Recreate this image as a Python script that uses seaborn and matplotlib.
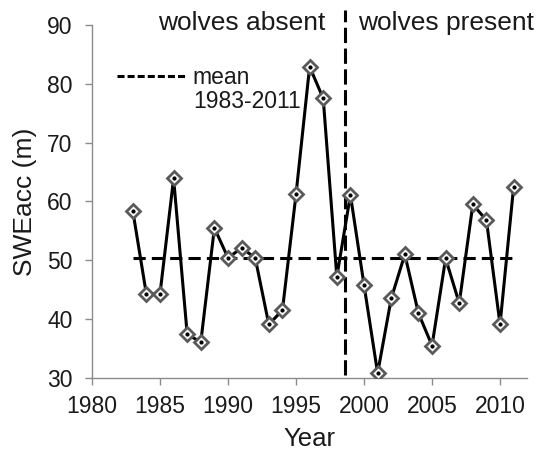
import numpy as np
import pandas as pd
import matplotlib
matplotlib.use("Agg")
import matplotlib.pyplot as plt
import seaborn as sns
from matplotlib.lines import Line2D

# SWEacc per year
years = list(range(1983, 2012))
swe = [58.4, 44.2, 44.3, 63.9, 37.4, 36.1, 55.5, 50.4, 52.1, 50.4,
       39.1, 41.5, 61.2, 82.9, 77.5, 47.2, 61.1, 45.8, 30.8, 43.5,
       51.0, 41.0, 35.5, 50.3, 42.7, 59.5, 56.8, 39.1, 62.5]
mean_value = 50.4
wolf_year = 1998.6
period_labels = ["wolves absent", "wolves present"]
period_centers = [1991.0, 2006.0]
x_ticks = [1980, 1985, 1990, 1995, 2000, 2005, 2010]
y_ticks = [30, 40, 50, 60, 70, 80, 90]

df = pd.DataFrame({"Year": years, "SWEacc": swe})

sns.set_style("white")
plt.rcParams['font.family'] = ['Liberation Sans', 'DejaVu Sans']

fig = plt.figure(figsize=(5.38, 4.62), dpi=100)
ax = fig.add_axes([0.171, 0.182, 0.809, 0.764])

# mean line
ax.plot([years[0], years[-1]], [mean_value, mean_value], color='black',
        lw=2.2, dashes=(4, 2), zorder=2)
# wolf reintroduction line
ax.plot([wolf_year, wolf_year], [30.5, 92.6], color='black', lw=2.2,
        dashes=(5, 1.8), clip_on=False, zorder=2)

sns.lineplot(data=df, x="Year", y="SWEacc", ax=ax, color='black', lw=2.2,
             marker='D', markersize=7.5, markerfacecolor='white',
             markeredgecolor='#5a5a5a', markeredgewidth=2.0, zorder=3)
ax.plot(years, swe, ls='none', marker='o', ms=2, color='black', zorder=4)

ax.set_xlim(1980, 2012)
ax.set_ylim(30, 90)
ax.set_xticks(x_ticks)
ax.set_yticks(y_ticks)
ax.set_xlabel("Year", fontsize=18.5, labelpad=7, color='#1a1a1a')
ax.set_ylabel("SWEacc (m)", fontsize=19, labelpad=7, color='#1a1a1a')

for s in ['top', 'right']:
    ax.spines[s].set_visible(False)
for s in ['left', 'bottom']:
    ax.spines[s].set_color('#8c8c8c')
    ax.spines[s].set_linewidth(1.0)
ax.tick_params(axis='both', direction='out', length=5, width=1.0,
               color='#8c8c8c', labelsize=16.5, labelcolor='#1a1a1a')
ax.tick_params(axis='x', pad=7, bottom=True)
ax.tick_params(axis='y', pad=9, left=True)

for lab, xc in zip(period_labels, period_centers):
    ax.text(xc, 89.15, lab, ha='center', va='baseline', fontsize=19,
            color='#1a1a1a')

handles = [Line2D([], [], color='black', lw=2.2, dashes=(2.3, 1.0)),
           Line2D([], [], color='none')]
ax.legend(handles, ["mean", "1983-2011"], loc='upper left',
          bbox_to_anchor=(0.058, 0.884), frameon=False, handlelength=3.0,
          handletextpad=0.3, labelspacing=0.05, borderpad=0, borderaxespad=0,
          fontsize=16.5, labelcolor='#1a1a1a')

fig.savefig("out.png", dpi=100)
